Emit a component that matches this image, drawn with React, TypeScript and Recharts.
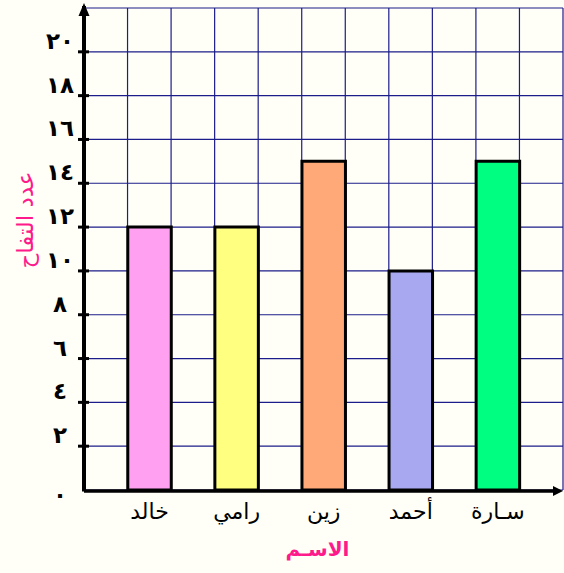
import {
  Bar,
  BarChart,
  CartesianGrid,
  Cell,
  LabelList,
  ReferenceLine,
  XAxis,
  YAxis,
} from "recharts";

// apples per child
const names = ["خالد", "رامي", "زين", "أحمد", "سـارة"];
const apples = [12, 12, 15, 10, 15];
const barColors = ["#FFA0F0", "#FFFF80", "#FFA878", "#A8A8F0", "#00FF80"];

const yTicks = [0, 2, 4, 6, 8, 10, 12, 14, 16, 18, 20, 22];
const xCells = [0, 1, 2, 3, 4, 5, 6, 7, 8, 9, 10, 11];

const FONT = "'DejaVu Sans', sans-serif";
const PINK = "#FF1A8C";
const GRID = "#1C1C8A";
const BG = "#FFFFF7";

// each bar sits in every other grid cell, starting from the second one
const data = names.map((name, i) => ({ name, apples: apples[i], slot: 2 * i + 1.5 }));

const arabicDigits = "٠١٢٣٤٥٦٧٨٩";
const toArabic = (n: number) =>
  String(n)
    .split("")
    .map((d) => arabicDigits[Number(d)])
    .join("");

function YTick({ x, y, payload }: any) {
  const v = payload.value as number;
  if (v === 22) return null;
  const label = (
    <text
      x={x - 24}
      y={v === 0 ? y + 13 : y - 3}
      textAnchor="middle"
      fontFamily={FONT}
      fontSize={23}
      letterSpacing={2}
      fontWeight="bold"
      fill="#000"
    >
      {toArabic(v)}
    </text>
  );
  if (v === 0) return label;
  return (
    <g>
      <line x1={x - 6} x2={x + 5} y1={y} y2={y} stroke="#000" strokeWidth={3} />
      {label}
    </g>
  );
}

function VerticalAxisArrow({ x1, y1, y2 }: any) {
  const top = Math.min(y1, y2);
  const bottom = Math.max(y1, y2);
  return (
    <g>
      <line x1={x1} x2={x1} y1={bottom + 1.5} y2={top - 2} stroke="#000" strokeWidth={4} />
      <path d={`M${x1 - 5.5},${top + 8} L${x1},${top - 5} L${x1 + 5.5},${top + 8} Z`} fill="#000" />
    </g>
  );
}

function HorizontalAxisArrow({ x1, x2, y1 }: any) {
  const left = Math.min(x1, x2);
  const right = Math.max(x1, x2);
  return (
    <g>
      <line x1={left} x2={right - 4} y1={y1 + 1} y2={y1 + 1} stroke="#000" strokeWidth={3.5} />
      <path d={`M${right - 10},${y1 - 4} L${right},${y1 + 1} L${right - 10},${y1 + 6} Z`} fill="#000" />
    </g>
  );
}

export default function App() {
  return (
    <div style={{ position: "absolute", left: 0, top: 0, width: 564, height: 573, background: BG }}>
      <BarChart width={564} height={573} data={data} margin={{ top: 8, right: 1, bottom: 43, left: 0 }}>
        <CartesianGrid stroke={GRID} strokeWidth={1.2} />
        <XAxis
          type="number"
          dataKey="slot"
          domain={[0, 11]}
          ticks={xCells}
          tick={() => <g />}
          tickLine={false}
          axisLine={false}
          height={40}
          label={{
            content: ({ viewBox }: any) => (
              <text
                x={viewBox.x + viewBox.width / 2 - 6}
                y={viewBox.y + viewBox.height + 26}
                textAnchor="middle"
                fontFamily={FONT}
                fontSize={20}
                fontWeight="bold"
                fill={PINK}
              >
                الاسـم
              </text>
            ),
          }}
        />
        <YAxis
          type="number"
          domain={[0, 22]}
          ticks={yTicks}
          width={84}
          tickSize={0}
          tickMargin={0}
          tickLine={false}
          axisLine={false}
          tick={<YTick />}
          label={{
            content: ({ viewBox }: any) => {
              const cx = viewBox.x + 25;
              const cy = viewBox.y + 212;
              return (
                <text
                  x={cx}
                  y={cy}
                  transform={`rotate(-90 ${cx} ${cy})`}
                  textAnchor="middle"
                  dominantBaseline="central"
                  fontFamily={FONT}
                  fontSize={23}
                  fill={PINK}
                >
                  عدد التفاح
                </text>
              );
            },
          }}
        />
        <Bar dataKey="apples" barSize={43.5} stroke="#000" strokeWidth={3} isAnimationActive={false}>
          {data.map((d, i) => (
            <Cell key={d.name} fill={barColors[i]} />
          ))}
          <LabelList dataKey="name" position="bottom" offset={13} fontFamily={FONT} fontSize={22} fill="#000" />
        </Bar>
        <ReferenceLine y={0} shape={<HorizontalAxisArrow />} />
        <ReferenceLine x={0} shape={<VerticalAxisArrow />} />
      </BarChart>
    </div>
  );
}
